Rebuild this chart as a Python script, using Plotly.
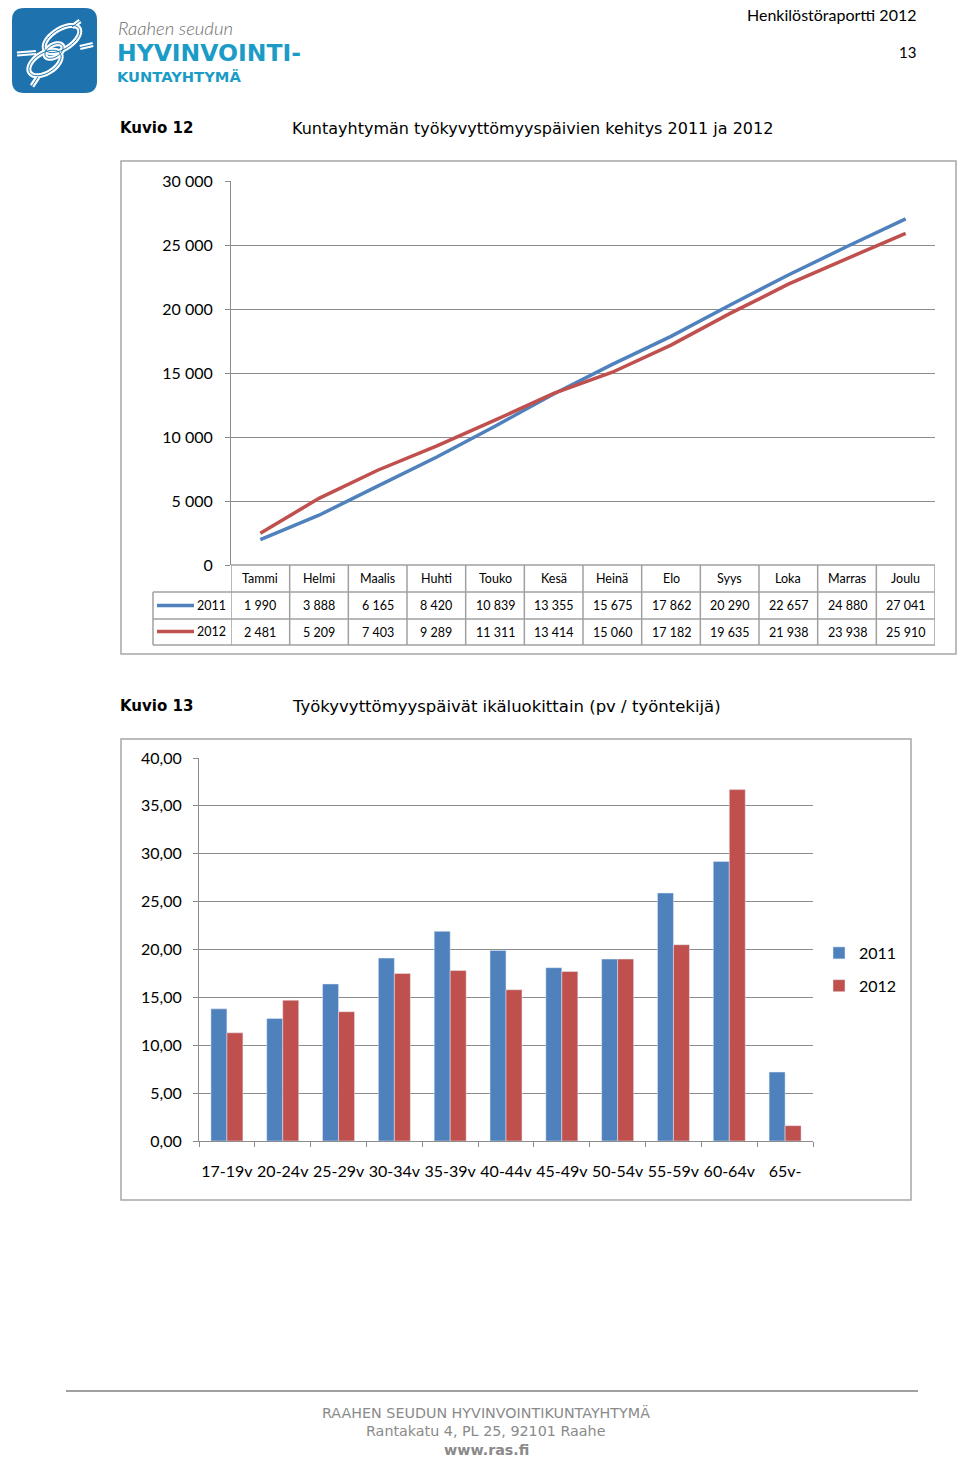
import math
import plotly.graph_objects as go

W, H = 960, 1459
def X(px): return px / W
def Y(py): return 1 - py / H

# ---------------- data ----------------
months = ["Tammi", "Helmi", "Maalis", "Huhti", "Touko", "Kesä", "Heinä",
          "Elo", "Syys", "Loka", "Marras", "Joulu"]
days_2011 = [1990, 3888, 6165, 8420, 10839, 13355, 15675, 17862, 20290, 22657, 24880, 27041]
days_2012 = [2481, 5209, 7403, 9289, 11311, 13414, 15060, 17182, 19635, 21938, 23938, 25910]

age_groups = ["17-19v", "20-24v", "25-29v", "30-34v", "35-39v", "40-44v",
              "45-49v", "50-54v", "55-59v", "60-64v", "65v-"]
per_emp_2011 = [13.8, 12.8, 16.4, 19.1, 21.9, 19.9, 18.1, 19.0, 25.9, 29.2, 7.2]
per_emp_2012 = [11.3, 14.7, 13.5, 17.5, 17.8, 15.8, 17.7, 19.0, 20.5, 36.7, 1.6]

line_ticks = [0, 5000, 10000, 15000, 20000, 25000, 30000]
bar_ticks = [0, 5, 10, 15, 20, 25, 30, 35, 40]

BLUE = "#4F81BD"
RED = "#C0504D"
GRID = "#8C8C8C"
BORDER = "#A6A6A6"
TXT = "#000000"
AXFONT = dict(family="Lato", size=16, color=TXT)


def fmt(v):
    return f"{v:,}".replace(",", " ")


fig = go.Figure()

# ---------------- line chart ----------------
fig.add_trace(go.Scatter(x=months, y=days_2011, mode="lines", name="2011",
                         line=dict(color=BLUE, width=3.5), showlegend=False,
                         xaxis="x", yaxis="y"))
fig.add_trace(go.Scatter(x=months, y=days_2012, mode="lines", name="2012",
                         line=dict(color=RED, width=3.5), showlegend=False,
                         xaxis="x", yaxis="y"))

# ---------------- bar chart ----------------
fig.add_trace(go.Bar(x=age_groups, y=per_emp_2011, name="2011", marker_color=BLUE,
                     xaxis="x2", yaxis="y2", legendgroup="a"))
fig.add_trace(go.Bar(x=age_groups, y=per_emp_2012, name="2012", marker_color=RED,
                     xaxis="x2", yaxis="y2", legendgroup="b"))

shapes = []
ann = []

# outer chart borders
shapes.append(dict(type="rect", xref="paper", yref="paper", x0=X(121), x1=X(956),
                   y0=Y(654), y1=Y(161), line=dict(color=BORDER, width=1.5)))
shapes.append(dict(type="rect", xref="paper", yref="paper", x0=X(121), x1=X(911),
                   y0=Y(1200), y1=Y(739), line=dict(color=BORDER, width=1.5)))

# data table under line chart
TB = "#A0A0A0"
row_top, row_h1, row_h2, row_bot = 565, 592, 619, 645
shapes.append(dict(type="line", xref="x", yref="paper", x0=-0.5, x1=11.5,
                   y0=Y(row_top), y1=Y(row_top), line=dict(color=TB, width=1.5)))
for yy in (row_h1, row_h2, row_bot):
    shapes.append(dict(type="line", xref="paper", yref="paper", x0=X(153), x1=X(935),
                       y0=Y(yy), y1=Y(yy), line=dict(color=TB, width=1.5)))
shapes.append(dict(type="line", xref="paper", yref="paper", x0=X(153), x1=X(153),
                   y0=Y(row_h1), y1=Y(row_bot), line=dict(color=TB, width=1.5)))
for k in range(len(months) + 1):
    shapes.append(dict(type="line", xref="x", yref="paper", x0=k - 0.5, x1=k - 0.5,
                       y0=Y(row_top), y1=Y(row_bot), line=dict(color=TB, width=1.5)))
# legend keys in table
shapes.append(dict(type="line", xref="paper", yref="paper", x0=X(157), x1=X(194),
                   y0=Y(605.5), y1=Y(605.5), line=dict(color=BLUE, width=3.5)))
shapes.append(dict(type="line", xref="paper", yref="paper", x0=X(157), x1=X(194),
                   y0=Y(631.5), y1=Y(631.5), line=dict(color=RED, width=3.5)))

TF = dict(family="Lato", size=12.5, color=TXT)
ann.append(dict(text="2011", x=X(228), y=Y(605), xref="paper", yref="paper",
                xanchor="right", yanchor="middle", showarrow=False, font=TF))
ann.append(dict(text="2012", x=X(228), y=Y(631), xref="paper", yref="paper",
                xanchor="right", yanchor="middle", showarrow=False, font=TF))
for m, a, b in zip(months, days_2011, days_2012):
    ann.append(dict(text=m, x=m, y=Y(578.5), xref="x", yref="paper", xanchor="center",
                    yanchor="middle", showarrow=False, font=TF))
    ann.append(dict(text=fmt(a), x=m, y=Y(605.5), xref="x", yref="paper", xanchor="center",
                    yanchor="middle", showarrow=False, font=TF))
    ann.append(dict(text=fmt(b), x=m, y=Y(632), xref="x", yref="paper", xanchor="center",
                    yanchor="middle", showarrow=False, font=TF))

# ---------------- page furniture ----------------
# logo background
shapes.append(dict(type="path", xref="paper", yref="paper",
                   path=(f"M {X(24)},{Y(8)} L {X(85)},{Y(8)} Q {X(97)},{Y(8)} {X(97)},{Y(20)} "
                         f"L {X(97)},{Y(81)} Q {X(97)},{Y(93)} {X(85)},{Y(93)} L {X(24)},{Y(93)} "
                         f"Q {X(12)},{Y(93)} {X(12)},{Y(81)} L {X(12)},{Y(20)} Q {X(12)},{Y(8)} {X(24)},{Y(8)} Z"),
                   fillcolor="#1E73AE", line=dict(width=0)))


def ellipse_path(cx, cy, rx, ry, ang_deg, n=48):
    a = math.radians(ang_deg)
    pts = []
    for i in range(n + 1):
        t = 2 * math.pi * i / n
        ex, ey = rx * math.cos(t), ry * math.sin(t)
        px = cx + ex * math.cos(a) - ey * math.sin(a)
        py = cy + ex * math.sin(a) + ey * math.cos(a)
        pts.append(f"{X(px)},{Y(py)}")
    return "M " + " L ".join(pts) + " Z"


def seg(x0, y0, x1, y1):
    return f"M {X(x0)},{Y(y0)} L {X(x1)},{Y(y1)}"


knot_paths = [
    seg(17, 54, 36, 52.5), seg(80, 47.5, 93, 44.5),
    ellipse_path(62, 39, 20, 10, -32),
    ellipse_path(45, 63, 18, 10, -32),
    ellipse_path(54, 51, 10, 6, -32),
    seg(80, 21, 72, 27), seg(32, 86, 38, 77),
]
for pth in knot_paths:
    shapes.append(dict(type="path", xref="paper", yref="paper", path=pth,
                       line=dict(color="white", width=5)))
for pth in knot_paths:
    shapes.append(dict(type="path", xref="paper", yref="paper", path=pth,
                       line=dict(color="#1E73AE", width=1)))

ann.append(dict(text="<i>Raahen seudun</i>", x=X(116), y=Y(28), xref="paper", yref="paper",
                xanchor="left", yanchor="middle", showarrow=False,
                font=dict(family="Lato", size=18.5, color="#6E6E6E", weight=300)))
ann.append(dict(text="<b>HYVINVOINTI-</b>", x=X(115), y=Y(53), xref="paper", yref="paper",
                xanchor="left", yanchor="middle", showarrow=False,
                font=dict(family="DejaVu Sans", size=23.5, color="#1A9CC6")))
ann.append(dict(text="<b>KUNTAYHTYMÄ</b>", x=X(115), y=Y(76), xref="paper", yref="paper",
                xanchor="left", yanchor="middle", showarrow=False,
                font=dict(family="DejaVu Sans", size=14.7, color="#1A9CC6")))

ann.append(dict(text="Henkilöstöraportti 2012", x=X(918), y=Y(14), xref="paper", yref="paper",
                xanchor="right", yanchor="middle", showarrow=False,
                font=dict(family="Lato", size=16, color=TXT)))
ann.append(dict(text="13", x=X(918), y=Y(52), xref="paper", yref="paper",
                xanchor="right", yanchor="middle", showarrow=False,
                font=dict(family="Lato", size=15, color=TXT)))

HFB = dict(family="DejaVu Sans", size=15, color=TXT)
HF = dict(family="DejaVu Sans", size=16, color=TXT)
ann.append(dict(text="<b>Kuvio 12</b>", x=X(118), y=Y(128), xref="paper", yref="paper",
                xanchor="left", yanchor="middle", showarrow=False, font=HFB))
ann.append(dict(text="Kuntayhtymän työkyvyttömyyspäivien kehitys 2011 ja 2012", x=X(290),
                y=Y(128), xref="paper", yref="paper", xanchor="left", yanchor="middle",
                showarrow=False, font=HF))
ann.append(dict(text="<b>Kuvio 13</b>", x=X(118), y=Y(706), xref="paper", yref="paper",
                xanchor="left", yanchor="middle", showarrow=False, font=HFB))
ann.append(dict(text="Työkyvyttömyyspäivät ikäluokittain (pv / työntekijä)", x=X(290),
                y=Y(706), xref="paper", yref="paper", xanchor="left", yanchor="middle",
                showarrow=False, font=dict(family="DejaVu Sans", size=16.5, color=TXT)))

# footer
shapes.append(dict(type="line", xref="paper", yref="paper", x0=X(66), x1=X(918),
                   y0=Y(1391), y1=Y(1391), line=dict(color="#808080", width=1.5)))
FF = dict(family="DejaVu Sans", size=14.3, color="#8A8A8A")
ann.append(dict(text="RAAHEN SEUDUN HYVINVOINTIKUNTAYHTYMÄ", x=X(486), y=Y(1412),
                xref="paper", yref="paper", xanchor="center", yanchor="middle",
                showarrow=False, font=FF))
ann.append(dict(text="Rantakatu 4, PL 25, 92101 Raahe", x=X(486), y=Y(1431),
                xref="paper", yref="paper", xanchor="center", yanchor="middle",
                showarrow=False, font=FF))
ann.append(dict(text="<b>www.ras.fi</b>", x=X(486), y=Y(1450),
                xref="paper", yref="paper", xanchor="center", yanchor="middle",
                showarrow=False, font=FF))

fig.update_layout(
    width=W, height=H, autosize=False,
    margin=dict(l=0, r=0, t=0, b=0, pad=0),
    paper_bgcolor="white", plot_bgcolor="white",
    separators=", ",
    font=AXFONT,
    showlegend=True,
    barmode="group", bargap=0.427, bargroupgap=0,
    legend=dict(x=X(819), y=Y(936), xanchor="left", yanchor="top",
                font=dict(family="Lato", size=16, color=TXT),
                tracegroupgap=9, itemwidth=30, bgcolor="rgba(0,0,0,0)",
                traceorder="grouped"),
    xaxis=dict(domain=[X(231), X(935)], range=[-0.5, 11.5], type="category",
               categoryorder="array", categoryarray=months, automargin=False,
               showticklabels=False, ticks="", showgrid=False, zeroline=False,
               showline=False, fixedrange=True),
    yaxis=dict(domain=[Y(565), Y(181)], range=[0, 30000], tickvals=line_ticks,
               tickformat=",d", showgrid=True, gridcolor=GRID, gridwidth=1,
               zeroline=False, showline=True, linecolor=GRID, linewidth=1,
               ticks="outside", ticklen=5, tickcolor=GRID, automargin=False,
               ticklabelstandoff=9, tickfont=AXFONT, fixedrange=True),
    xaxis2=dict(domain=[X(199), X(813)], type="category", range=[-0.5, 10.5],
                categoryorder="array", categoryarray=age_groups, automargin=False,
                showline=True, linecolor=GRID, linewidth=1, ticks="outside",
                tickson="boundaries", ticklen=5, tickcolor=GRID, showgrid=False,
                tickangle=0, tickfont=AXFONT, ticklabelstandoff=16, anchor="y2",
                fixedrange=True),
    yaxis2=dict(domain=[Y(1141), Y(758)], range=[0, 40], tickvals=bar_ticks,
                tickformat=".2f", showgrid=True, gridcolor=GRID, gridwidth=1,
                zeroline=False, showline=True, linecolor=GRID, linewidth=1,
                ticks="outside", ticklen=5, tickcolor=GRID, ticklabelstandoff=8,
                tickfont=AXFONT, anchor="x2", automargin=False, fixedrange=True),
    shapes=shapes,
    annotations=ann,
)

fig.write_html("out.html", config={"displayModeBar": False},
               post_script="document.body.style.margin='0';document.body.style.overflow='hidden';")
